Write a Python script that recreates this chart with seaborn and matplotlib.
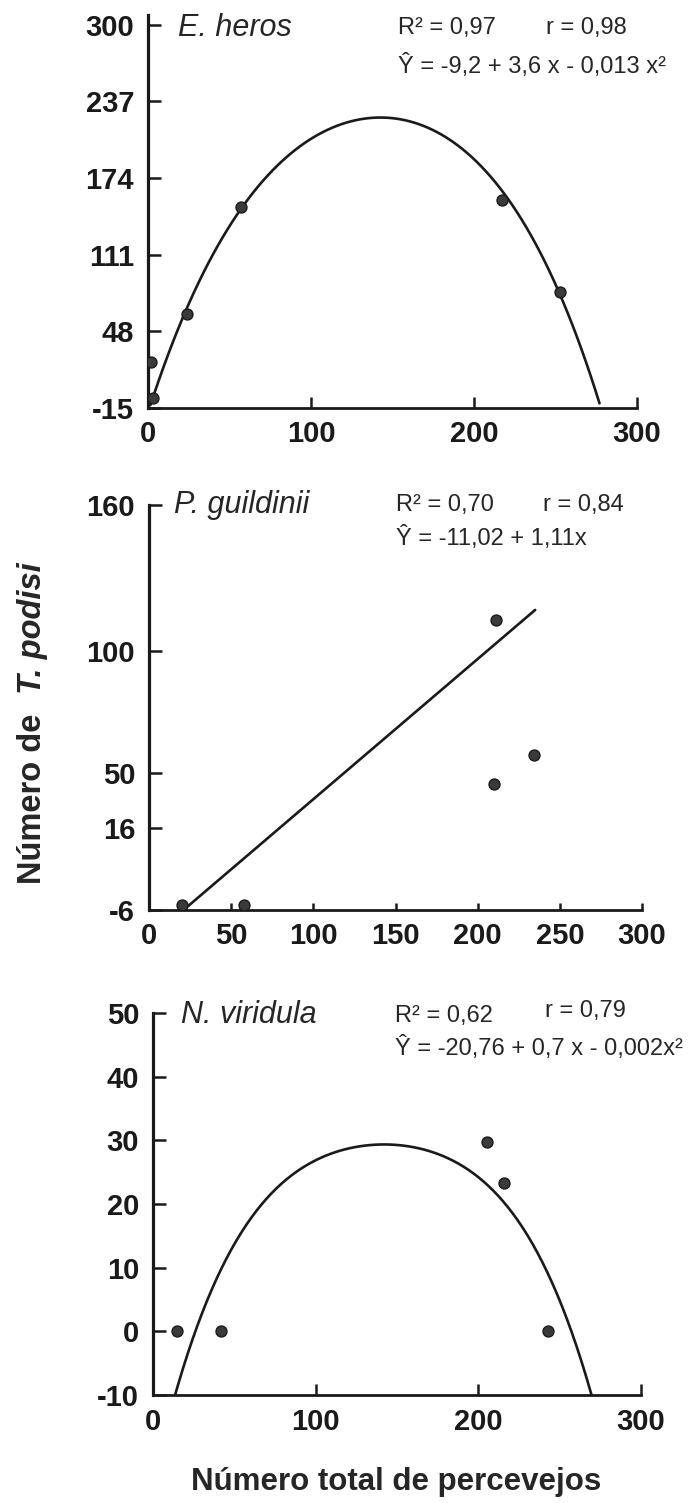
import matplotlib
matplotlib.use("Agg")
import matplotlib.pyplot as plt
import seaborn as sns

# ---------------- data ----------------
# E. heros
heros_x = [2, 3, 24, 57, 217, 253]
heros_y = [23, -7, 62, 150, 156, 80]
heros_fit_x = [1.5, 2.7, 10, 24, 40, 57, 80, 100, 125, 147, 170, 190, 217, 240, 253, 265, 277]
heros_fit_y = [-15, -7, 20, 70, 114, 150, 180, 204, 220, 226, 221, 203, 157, 110, 81, 43, -15]
heros_yticks = [300, 237, 174, 111, 48, -15]
heros_xticks = [0, 100, 200, 300]

# P. guildinii
guild_x = [20, 58, 211, 210, 234]
guild_y = [-4, -4, 113, 45.5, 57.5]
guild_fit_x = [21, 235]
guild_fit_y = [-6, 117]
guild_ytick_labels = ["160", "100", "50", "16", "-6"]
guild_ytick_pos = [160, 100, 50, 27.5, -6]  # "16" tick is drawn higher than its value in the original
guild_xticks = [0, 50, 100, 150, 200, 250, 300]

# N. viridula
virid_x = [15, 42, 205.5, 216, 243]
virid_y = [0, 0, 29.7, 23.3, 0]
virid_fit_x = [16.6, 22, 26, 38.4, 69.5, 97, 138.5, 160, 180, 207.5, 235, 254.4, 269.6]
virid_fit_y = [-10, -1, 1, 8.5, 19.5, 26.3, 29.5, 29.3, 27.5, 22.5, 12.8, 1.5, -9.6]
virid_yticks = [50, 40, 30, 20, 10, 0, -10]
virid_xticks = [0, 100, 200, 300]

stats = [
    ("E. heros", "R² = 0,97", "r = 0,98", "Ŷ = -9,2 + 3,6 x - 0,013 x²"),
    ("P. guildinii", "R² = 0,70", "r = 0,84", "Ŷ = -11,02 + 1,11x"),
    ("N. viridula", "R² = 0,62", "r = 0,79", "Ŷ = -20,76 + 0,7 x - 0,002x²"),
]

# ---------------- style ----------------
sns.set_theme(style="ticks")
plt.rcParams["font.family"] = ["Liberation Sans", "DejaVu Sans"]

W, H = 695, 1503
fig = plt.figure(figsize=(W / 100, H / 100), dpi=100)


def px_axes(left, right, top, bottom):
    return fig.add_axes([left / W, 1 - bottom / H, (right - left) / W, (bottom - top) / H])


ax1 = px_axes(148, 637, 15, 408)
ax2 = px_axes(149, 642, 505, 910)
ax3 = px_axes(153, 641, 1013, 1395)
for ax in (ax1, ax2, ax3):
    ax.set_xlim(0, 300)
ax1.set_ylim(-15, 308)
ax2.set_ylim(-6, 160)
ax3.set_ylim(-10, 50)

pt_kw = dict(s=62, color="#3a3a3a", edgecolor="k", linewidth=1.0, zorder=3)
line_kw = dict(color="k", lw=1.9)

# panel 1
sns.regplot(x=heros_fit_x, y=heros_fit_y, order=4, ci=None, scatter=False,
            truncate=True, line_kws=line_kw, ax=ax1)
sns.scatterplot(x=heros_x, y=heros_y, ax=ax1, **pt_kw)
ax1.set_yticks(heros_yticks, labels=[str(v) for v in heros_yticks])
ax1.set_xticks(heros_xticks, labels=[str(v) for v in heros_xticks])

# panel 2
sns.lineplot(x=guild_fit_x, y=guild_fit_y, ax=ax2, **line_kw)
sns.scatterplot(x=guild_x, y=guild_y, ax=ax2, **pt_kw)
ax2.set_yticks(guild_ytick_pos, labels=guild_ytick_labels)
ax2.set_xticks(guild_xticks, labels=[str(v) for v in guild_xticks])

# panel 3 (curve extended to the axes and clipped at the x axis)
sns.regplot(x=virid_fit_x, y=virid_fit_y, order=4, ci=None, scatter=False,
            truncate=False, line_kws=line_kw, ax=ax3)
sns.scatterplot(x=virid_x, y=virid_y, ax=ax3, **pt_kw)
ax3.set_yticks(virid_yticks, labels=[str(v) for v in virid_yticks])
ax3.set_xticks(virid_xticks, labels=[str(v) for v in virid_xticks])

for i, ax in enumerate([ax1, ax2, ax3]):
    ax.set_xlim(0, 300)
    ax.set_xlabel("")
    ax.set_ylabel("")
    ax.spines["top"].set_visible(False)
    ax.spines["right"].set_visible(False)
    ax.spines["left"].set_linewidth(2.3)
    ax.spines["bottom"].set_linewidth(2.0)
    ax.spines["left"].set_color("k")
    ax.spines["bottom"].set_color("k")
    ax.tick_params(axis="y", direction="in", length=9, width=1.8, pad=10, colors="k")
    ax.tick_params(axis="x", direction="in", length=5 if i == 1 else 8, width=1.8, pad=9, colors="k")
    for lbl in ax.get_xticklabels() + ax.get_yticklabels():
        lbl.set_fontsize(21)
        lbl.set_fontweight("bold")
ax1.set_ylim(-15, 308)
ax2.set_ylim(-6, 160)
ax3.set_ylim(-10, 50)

# annotations
ann = [
    # species (x, y), R2 (x, y), r (x, y), eq (x, y)
    ((178, 28), (398, 28), (546, 28), (398, 66)),
    ((174, 505), (396, 505), (543, 505), (396, 538)),
    ((181, 1015), (395, 1016), (545, 1011), (395, 1048)),
]
for (name, r2, r, eq), (p_sp, p_r2, p_r, p_eq) in zip(stats, ann):
    fig.text(p_sp[0] / W, 1 - p_sp[1] / H, name, style="italic", fontsize=22,
             ha="left", va="center")
    fig.text(p_r2[0] / W, 1 - p_r2[1] / H, r2, fontsize=17, ha="left", va="center")
    fig.text(p_r[0] / W, 1 - p_r[1] / H, r, fontsize=17, ha="left", va="center")
    fig.text(p_eq[0] / W, 1 - p_eq[1] / H, eq, fontsize=17, ha="left", va="center")

# axis titles
fig.text(396 / W, 1 - 1482 / H, "Número total de percevejos", fontsize=22.5,
         fontweight="bold", ha="center", va="center")
t1 = fig.text(33 / W, 1 - 884 / H, "Número de", rotation=90, fontsize=23.5,
              fontweight="bold", ha="center", va="bottom")
fig.canvas.draw()
bb = t1.get_window_extent()
fig.text(33 / W, (bb.y1 + 20) / H, "T. podisi", rotation=90, fontsize=23.5,
         fontweight="bold", style="italic", ha="center", va="bottom")

fig.savefig("out.png", dpi=100)
